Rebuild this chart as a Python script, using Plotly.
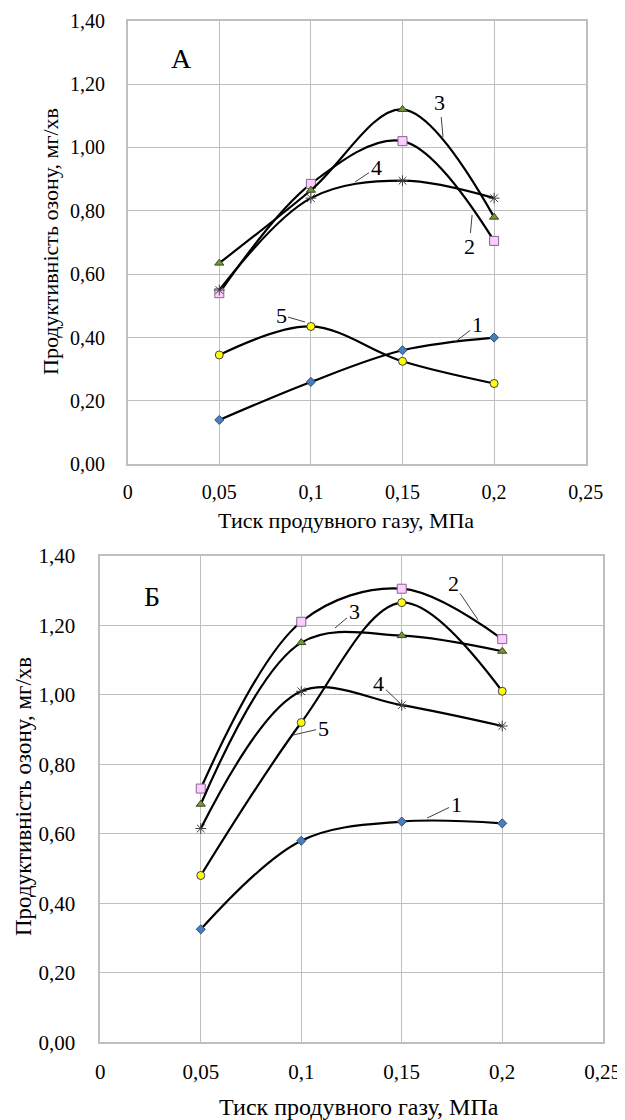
import plotly.graph_objects as go

pressure = [0.05, 0.1, 0.15, 0.2]

# Chart A
a1 = [0.14, 0.26, 0.36, 0.40]
a2 = [0.54, 0.885, 1.02, 0.705]
a3 = [0.635, 0.865, 1.12, 0.78]
a4 = [0.55, 0.84, 0.895, 0.84]
a5 = [0.345, 0.435, 0.325, 0.255]

# Chart B
b1 = [0.325, 0.58, 0.635, 0.63]
b2 = [0.73, 1.21, 1.305, 1.16]
b3 = [0.685, 1.15, 1.17, 1.125]
b4 = [0.615, 1.01, 0.97, 0.91]
b5 = [0.48, 0.92, 1.265, 1.01]

series_names = ["1", "2", "3", "4", "5"]
y_title = "Продуктивність озону, мг/хв"
x_title = "Тиск продувного газу, МПа"

FONT = "Liberation Serif"

# page body has an 8px default margin; figure is sized to fit inside the window
OFF = 8
W, H = 625 - OFF, 1120 - OFF
def px(x):
    return (x - OFF) / W
def py(y):
    return 1 - (y - OFF) / H

markers = [
    dict(symbol="diamond", size=7, color="#4a7ebb", line=dict(color="#2c4d75", width=1)),
    dict(symbol="square", size=9, color="#ffccff", line=dict(color="#7f6a8f", width=1)),
    dict(symbol="triangle-up", size=8, color="#77933c", line=dict(color="#3a4a1e", width=1)),
    dict(symbol="asterisk-open", size=9, color="#404040", line=dict(color="#404040", width=1)),
    dict(symbol="circle", size=8, color="#ffff00", line=dict(color="#404040", width=1)),
]

fig = go.Figure()
for vals, mk, nm in zip([a1, a2, a3, a4, a5], markers, series_names):
    fig.add_trace(go.Scatter(x=pressure, y=vals, mode="lines+markers", name=nm,
                             line=dict(color="black", width=2.2, shape="spline", smoothing=1.0),
                             marker=mk, xaxis="x", yaxis="y", showlegend=False))
for vals, mk, nm in zip([b1, b2, b3, b4, b5], markers, series_names):
    fig.add_trace(go.Scatter(x=pressure, y=vals, mode="lines+markers", name=nm,
                             line=dict(color="black", width=2.2, shape="spline", smoothing=1.0),
                             marker=mk, xaxis="x2", yaxis="y2", showlegend=False))

grid = "#bfbfbf"
def xax(domain, anchor, fs, standoff):
    return dict(domain=domain, anchor=anchor, range=[0, 0.25], dtick=0.05, tick0=0,
                automargin=False,
                showgrid=True, gridcolor=grid, gridwidth=1, zeroline=False,
                showline=True, linecolor=grid, linewidth=1.5, mirror=True,
                ticks="", ticklabelstandoff=standoff,
                tickfont=dict(family=FONT, size=fs, color="black"))
def yax(domain, anchor, fs, standoff):
    return dict(domain=domain, anchor=anchor, range=[0, 1.4], dtick=0.2, tick0=0,
                tickformat=".2f", automargin=False,
                showgrid=True, gridcolor=grid, gridwidth=1, zeroline=False,
                showline=True, linecolor=grid, linewidth=1.5, mirror=True,
                ticks="", ticklabelstandoff=standoff,
                tickfont=dict(family=FONT, size=fs, color="black"))

fig.update_layout(
    width=W, height=H,
    margin=dict(l=0, r=0, t=0, b=0, autoexpand=False),
    paper_bgcolor="white", plot_bgcolor="white",
    separators=", ",
    font=dict(family=FONT, color="black"),
    xaxis=xax([px(127.7), px(585.7)], "y", 20, 9),
    yaxis=yax([py(464.3), py(20.7)], "x", 20, 17),
    xaxis2=xax([px(100.3), px(602.7)], "y2", 21, 10),
    yaxis2=yax([py(1042.3), py(555.7)], "x2", 21, 19),
)

C = dict(xanchor="center", yanchor="middle")
ann = []
# axis titles
ann.append(dict(text=x_title, x=px(346), y=py(520), xref="paper", yref="paper",
                showarrow=False, font=dict(family=FONT, size=22), **C))
ann.append(dict(text=x_title, x=px(359), y=py(1107), xref="paper", yref="paper",
                showarrow=False, font=dict(family=FONT, size=24), **C))
ann.append(dict(text=y_title, x=px(50), y=py(242), xref="paper", yref="paper",
                showarrow=False, textangle=-90, font=dict(family=FONT, size=22), **C))
ann.append(dict(text=y_title, x=px(23), y=py(797), xref="paper", yref="paper",
                showarrow=False, textangle=-90, font=dict(family=FONT, size=23), **C))
# panel letters
ann.append(dict(text="А", x=0.0296, y=1.282, xref="x", yref="y", showarrow=False,
                font=dict(family=FONT, size=28), **C))
ann.append(dict(text="Б", x=0.0257, y=1.284, xref="x2", yref="y2", showarrow=False,
                font=dict(family=FONT, size=28), **C))

# curve labels: (text, tip_x, tip_y, ax, ay)
labels_a = [("3", 0.1721, 1.033, -3, -34), ("2", 0.188, 0.787, -3, 32), ("4", 0.1241, 0.891, 21, -14),
            ("5", 0.0968, 0.449, -24, -7), ("1", 0.1787, 0.386, 22, -17)]
labels_b = [("2", 0.188, 1.215, -25, -37), ("3", 0.1168, 1.192, 19, -16), ("4", 0.1491, 0.976, -21, -20),
            ("5", 0.0959, 0.884, 30, -7), ("1", 0.1626, 0.645, 29, -14)]
for t, x, y, ax, ay in labels_a:
    ann.append(dict(text=t, x=x, y=y, xref="x", yref="y", ax=ax, ay=ay, showarrow=True,
                    arrowhead=0, arrowwidth=1, arrowcolor="#404040", standoff=0,
                    font=dict(family=FONT, size=22)))
for t, x, y, ax, ay in labels_b:
    ann.append(dict(text=t, x=x, y=y, xref="x2", yref="y2", ax=ax, ay=ay, showarrow=True,
                    arrowhead=0, arrowwidth=1, arrowcolor="#404040", standoff=0,
                    font=dict(family=FONT, size=22)))
fig.update_layout(annotations=ann)

fig.write_html("out.html")
